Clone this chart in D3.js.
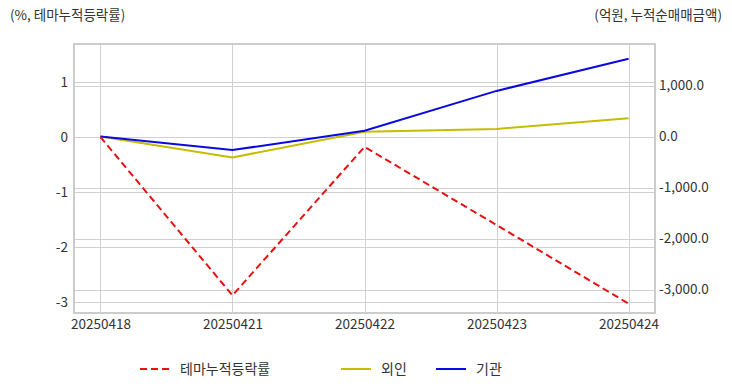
<!DOCTYPE html>
<html>
<head>
<meta charset="utf-8">
<script src="https://cdn.jsdelivr.net/npm/d3@7"></script>
<style>
  body { margin: 0; background: #fff; }
  svg text { font-family: "Noto Sans CJK KR", "Noto Sans", sans-serif; fill: #333; }
</style>
</head>
<body>
<svg id="chart"></svg>
<script>
// data
var dates = ["20250418", "20250421", "20250422", "20250423", "20250424"];
var themeRate = [0, -2.88, -0.18, -1.6, -3.03];     // %, left axis
var foreign = [0, -410, 95, 150, 360];              // 억원, right axis
var institution = [0, -265, 115, 895, 1525];        // 억원, right axis
var leftTicks = [1, 0, -1, -2, -3];
var rightTicks = [1000, 0, -1000, -2000, -3000];

var width = 732, height = 392;
var plotL = 74, plotR = 655, plotT = 44, plotB = 313;

var svg = d3.select("#chart").attr("width", width).attr("height", height);

var x = d3.scalePoint().domain(dates).range([plotL, plotR]).padding(0.2);
var yL = d3.scaleLinear().domain([-3.2, 1.69]).range([plotB, plotT]);
var yR = d3.scaleLinear().domain([-3460, 1815]).range([plotB, plotT]);

// hyphen instead of unicode minus, like the original
function hyph(f) { return function(d) { return f(d).replace("\u2212", "-"); }; }

// grid lines
var grid = svg.append("g").attr("stroke", "#d0d0d0").attr("stroke-width", 1);
grid.selectAll(".gl").data(leftTicks).enter().append("line")
    .attr("x1", plotL).attr("x2", plotR)
    .attr("y1", function(d) { return Math.round(yL(d)) + 0.5; })
    .attr("y2", function(d) { return Math.round(yL(d)) + 0.5; });
grid.selectAll(".gr").data(rightTicks).enter().append("line")
    .attr("x1", plotL).attr("x2", plotR)
    .attr("y1", function(d) { return Math.round(yR(d)) + 0.5; })
    .attr("y2", function(d) { return Math.round(yR(d)) + 0.5; });
grid.selectAll(".gx").data(dates).enter().append("line")
    .attr("y1", plotT).attr("y2", plotB)
    .attr("x1", function(d) { return Math.round(x(d)) + 0.5; })
    .attr("x2", function(d) { return Math.round(x(d)) + 0.5; });

// frame
svg.append("rect")
    .attr("x", plotL).attr("y", plotT)
    .attr("width", plotR - plotL).attr("height", plotB - plotT)
    .attr("fill", "none").attr("stroke", "#cccccc").attr("stroke-width", 2);

// axes
var axL = svg.append("g").attr("transform", "translate(" + (plotL - 3) + ",0)")
    .call(d3.axisLeft(yL).tickValues(leftTicks).tickSize(0).tickPadding(3).tickFormat(hyph(d3.format("d"))));
var axR = svg.append("g").attr("transform", "translate(" + (plotR + 2) + ",0)")
    .call(d3.axisRight(yR).tickValues(rightTicks).tickSize(0).tickPadding(2).tickFormat(hyph(d3.format(",.1f"))));
var axX = svg.append("g").attr("transform", "translate(0," + plotB + ")")
    .call(d3.axisBottom(x).tickSize(0).tickPadding(6));
[axL, axR, axX].forEach(function(a) {
    a.select(".domain").remove();
    a.selectAll("text").style("font-size", "13.5px").attr("fill", "#333");
});

// titles
svg.append("text").attr("x", 10).attr("y", 20).style("font-size", "13.5px").text("(%, 테마누적등락률)");
svg.append("text").attr("x", 722).attr("y", 20).attr("text-anchor", "end").style("font-size", "13.5px").text("(억원, 누적순매매금액)");

// lines
var lineL = d3.line().x(function(d, i) { return x(dates[i]); }).y(function(d) { return yL(d); });
var lineR = d3.line().x(function(d, i) { return x(dates[i]); }).y(function(d) { return yR(d); });

svg.append("path").datum(foreign).attr("d", lineR)
    .attr("fill", "none").attr("stroke", "#c4bd00").attr("stroke-width", 2);
svg.append("path").datum(institution).attr("d", lineR)
    .attr("fill", "none").attr("stroke", "#0a0ae0").attr("stroke-width", 2);
svg.append("path").datum(themeRate).attr("d", lineL)
    .attr("fill", "none").attr("stroke", "#e81010").attr("stroke-width", 2)
    .attr("stroke-dasharray", "7,4");

// legend
var legend = [
    { name: "테마누적등락률", color: "#e81010", dash: "7,4", x: 140 },
    { name: "외인", color: "#c4bd00", dash: null, x: 341 },
    { name: "기관", color: "#0a0ae0", dash: null, x: 436 }
];
var lg = svg.append("g");
legend.forEach(function(d) {
    lg.append("line").attr("x1", d.x).attr("x2", d.x + 30).attr("y1", 369).attr("y2", 369)
        .attr("stroke", d.color).attr("stroke-width", 2).attr("stroke-dasharray", d.dash);
    lg.append("text").attr("x", d.x + 40).attr("y", 374).style("font-size", "14px").text(d.name);
});
</script>
</body>
</html>
